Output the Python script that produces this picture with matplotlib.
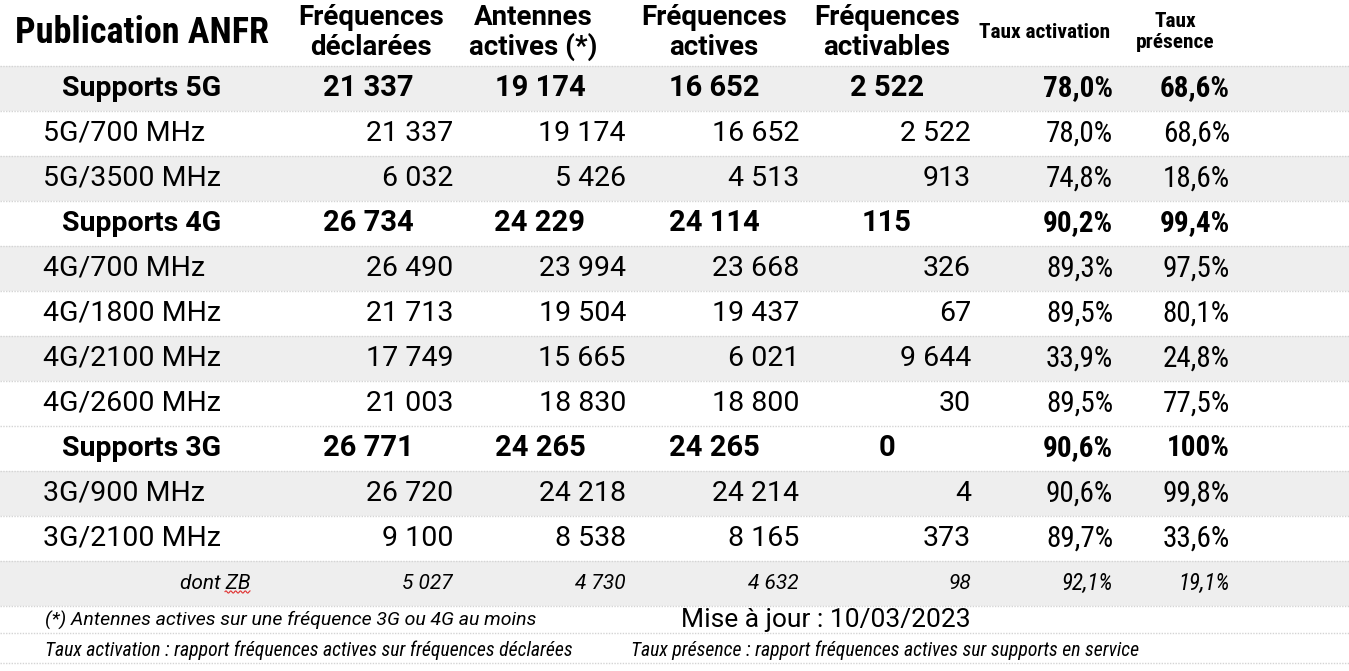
import matplotlib
matplotlib.use("Agg")
import numpy as np
import matplotlib.pyplot as plt
from matplotlib import font_manager


def choisir(noms):
    for nom in noms:
        try:
            font_manager.findfont(nom, fallback_to_default=False)
            return nom
        except Exception:
            pass
    return "DejaVu Sans"


police = choisir(["Roboto", "DejaVu Sans"])
etroite = choisir(["Roboto Condensed", "Liberation Sans Narrow", "Roboto"])
plt.rcParams["font.family"] = [police, "DejaVu Sans"]

# donnees
titre = "Publication ANFR"
entetes = ["Fréquences\ndéclarées", "Antennes\nactives (*)", "Fréquences\nactives",
           "Fréquences\nactivables", "Taux activation", "Taux\nprésence"]

lignes = ["Supports 5G", "5G/700 MHz", "5G/3500 MHz",
          "Supports 4G", "4G/700 MHz", "4G/1800 MHz", "4G/2100 MHz", "4G/2600 MHz",
          "Supports 3G", "3G/900 MHz", "3G/2100 MHz", "dont ZB"]
types = ["total", "detail", "detail",
         "total", "detail", "detail", "detail", "detail",
         "total", "detail", "detail", "sous"]
fonds = [1, 0, 1, 0, 1, 0, 1, 0, 0, 1, 0, 1]

freq_declarees = [21337, 21337, 6032, 26734, 26490, 21713, 17749, 21003, 26771, 26720, 9100, 5027]
antennes_actives = [19174, 19174, 5426, 24229, 23994, 19504, 15665, 18830, 24265, 24218, 8538, 4730]
freq_actives = [16652, 16652, 4513, 24114, 23668, 19437, 6021, 18800, 24265, 24214, 8165, 4632]
freq_activables = [2522, 2522, 913, 115, 326, 67, 9644, 30, 0, 4, 373, 98]
taux_activation = [78.0, 78.0, 74.8, 90.2, 89.3, 89.5, 33.9, 89.5, 90.6, 90.6, 89.7, 92.1]
taux_presence = [68.6, 68.6, 18.6, 99.4, 97.5, 80.1, 24.8, 77.5, 100, 99.8, 33.6, 19.1]

note_1 = "(*) Antennes actives sur une fréquence 3G ou 4G au moins"
maj = "Mise à jour : 10/03/2023"
note_2 = "Taux activation : rapport fréquences actives sur fréquences déclarées"
note_3 = "Taux présence : rapport fréquences actives sur supports en service"


def fmt_nombre(v):
    return f"{v:,}".replace(",", " ")


def fmt_pct(v):
    if v == 100:
        return "100%"
    return f"{v:.1f}%".replace(".", ",")


L, H = 1349, 671
fig = plt.figure(figsize=(L / 100, H / 100), dpi=100)
ax = fig.add_axes([0, 0, 1, 1])
ax.set_xlim(0, L)
ax.set_ylim(H, 0)
ax.axis("off")

haut_entete = 65.7
haut_ligne = 45
gris = "#eeeeee"
trait = "#d4d4d4"

# colonnes : bord droit (details) et centre (totaux)
droites = [453, 626, 799, 971, 1113, 1230]
centres = [368, 540, 714, 887]
centres_entete = [371, 533, 714, 887, 1045, 1175]

# entete
ax.text(15, 33, titre, fontsize=26, fontweight="bold", family=etroite, va="center", ha="left")
for j, e in enumerate(entetes):
    if j >= 4:
        ax.text(centres_entete[j], 32, e, fontsize=15.4, fontweight="bold", family=etroite,
                va="center", ha="center", linespacing=1.1)
    else:
        ax.text(centres_entete[j], 32.5, e, fontsize=20, fontweight="bold",
                va="center", ha="center", linespacing=1.12)

colonnes = [freq_declarees, antennes_actives, freq_actives, freq_activables,
            taux_activation, taux_presence]

for i, nom in enumerate(lignes):
    y0 = haut_entete + i * haut_ligne
    yc = y0 + haut_ligne / 2
    if fonds[i]:
        ax.add_patch(plt.Rectangle((0, y0), L, haut_ligne, color=gris, lw=0, zorder=0))
    ax.plot([0, L], [y0, y0], color=trait, lw=1, ls=(0, (1, 1)), zorder=1)

    if types[i] == "total":
        ax.text(142, yc, nom, fontsize=20.5, fontweight="bold", ha="center", va="center")
    elif types[i] == "detail":
        ax.text(43, yc, nom, fontsize=20.5, ha="left", va="center")
    else:
        ax.text(250, yc, nom, fontsize=15, style="italic", ha="right", va="center")

    for j, col in enumerate(colonnes):
        v = col[i]
        s = fmt_pct(v) if j >= 4 else fmt_nombre(v)
        fam = etroite if j >= 4 else police
        if types[i] == "total":
            if j >= 4:
                ax.text(droites[j], yc, s, fontsize=21, fontweight="bold", family=fam,
                        ha="right", va="center")
            else:
                ax.text(centres[j], yc, s, fontsize=21, fontweight="bold",
                        ha="center", va="center")
        elif types[i] == "detail":
            ax.text(droites[j], yc, s, fontsize=20.5 if j < 4 else 21, family=fam,
                    ha="right", va="center")
        else:
            ax.text(droites[j], yc, s, fontsize=15 if j < 4 else 16.5, style="italic", family=fam,
                    ha="right", va="center")

# soulignement rouge sous ZB
xs = np.linspace(225, 250, 40)
ax.plot(xs, 592 + 1.1 * np.sin(xs * 1.3), color="#e03030", lw=0.8)

# pied
y_fin = haut_entete + len(lignes) * haut_ligne
ax.plot([0, L], [y_fin, y_fin], color=trait, lw=1, ls=(0, (1, 1)))
ax.plot([0, L], [633, 633], color=trait, lw=1, ls=(0, (1, 1)))
ax.plot([0, L], [663, 663], color=trait, lw=1, ls=(0, (1, 1)))

ax.text(45, 620, note_1, fontsize=14, style="italic", ha="left", va="center")
ax.text(681, 620, maj, fontsize=19, ha="left", va="center")
ax.text(45, 650, note_2, fontsize=14.2, style="italic", family=etroite, ha="left", va="center")
ax.text(631, 650, note_3, fontsize=14.2, style="italic", family=etroite, ha="left", va="center")

fig.savefig("out.png", dpi=100)
